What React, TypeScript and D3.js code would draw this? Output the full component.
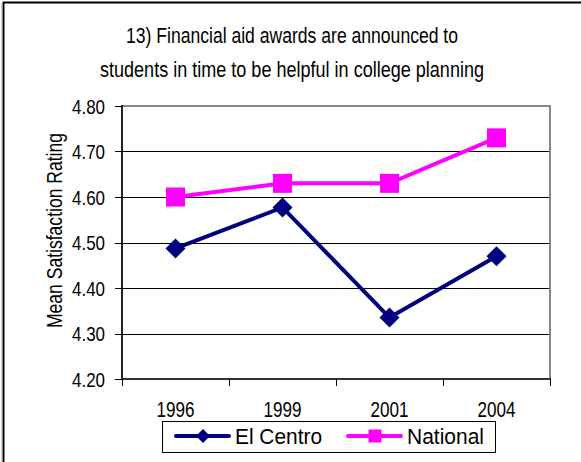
import React from "react";
import * as d3 from "d3";

const years = ["1996", "1999", "2001", "2004"];
const elCentro = [4.487, 4.577, 4.335, 4.47];
const national = [4.6, 4.63, 4.63, 4.73];
const yTicks = [4.2, 4.3, 4.4, 4.5, 4.6, 4.7, 4.8];
const titleLines = [
  "13) Financial aid awards are announced to",
  "students in time to be helpful in college planning",
];
const seriesNames = ["El Centro", "National"];

const W = 581;
const H = 462;
const FONT = "'Liberation Sans', Arial, sans-serif";

export default function App() {
  const left = 122, right = 550, top = 106, bottom = 379;
  const x = d3.scaleBand<string>().domain(years).range([left, right]).padding(0);
  const y = d3.scaleLinear().domain([4.2, 4.8]).range([bottom, top]);
  const cx = (d: string) => (x(d) as number) + x.bandwidth() / 2;
  const line = d3
    .line<number>()
    .x((_, i) => cx(years[i]))
    .y((v) => y(v));
  const navy = "#000080";
  const mag = "#FF00FF";
  const diamond = (px: number, py: number, r: number) =>
    `M${px},${py - r}L${px + r},${py}L${px},${py + r}L${px - r},${py}Z`;
  const titleWidths = [332, 384];

  return (
    <svg
      width={W}
      height={H}
      style={{ position: "absolute", left: 0, top: 0, background: "#fff" }}
    >
      <rect x={0} y={0} width={W} height={H} fill="#fff" />
      {/* outer frame */}
      <rect x={3.5} y={2.5} width={W + 20} height={H + 20} fill="none" stroke="#000" strokeWidth={2} />
      <line x1={2} y1={3} x2={2} y2={H} stroke="#999" strokeWidth={1} />

      {/* title */}
      {titleLines.map((t, i) => (
        <text
          key={i}
          x={292}
          y={43 + i * 34}
          textAnchor="middle"
          fontFamily={FONT}
          fontSize={22}
          textLength={titleWidths[i]}
          lengthAdjust="spacingAndGlyphs"
          fill="#000"
        >
          {t}
        </text>
      ))}

      {/* gridlines */}
      {yTicks.slice(1, -1).map((t) => (
        <line key={t} x1={left} x2={right} y1={Math.round(y(t)) + 0.5} y2={Math.round(y(t)) + 0.5} stroke="#000" strokeWidth={1} />
      ))}
      {/* plot border top/right */}
      <line x1={left} x2={right + 1} y1={top} y2={top} stroke="#888" strokeWidth={2} />
      <line x1={right} x2={right} y1={top} y2={bottom} stroke="#888" strokeWidth={2} />
      {/* axes */}
      <line x1={left} x2={left} y1={top - 1} y2={bottom + 1} stroke="#222" strokeWidth={2} />
      <line x1={left} x2={right + 1} y1={bottom} y2={bottom} stroke="#333" strokeWidth={2} />

      {/* y ticks */}
      {yTicks.map((t) => (
        <g key={t}>
          <line x1={115} x2={left} y1={Math.round(y(t)) + 0.5} y2={Math.round(y(t)) + 0.5} stroke="#000" strokeWidth={1} />
          <text
            x={105}
            y={y(t)}
            dy="0.36em"
            textAnchor="end"
            fontFamily={FONT}
            fontSize={21}
            textLength={33}
            lengthAdjust="spacingAndGlyphs"
            fill="#000"
          >
            {t.toFixed(2)}
          </text>
        </g>
      ))}

      {/* x ticks */}
      {[...years.map((d) => x(d) as number), right].map((px, i) => (
        <line key={i} x1={Math.round(px) + 0.5} x2={Math.round(px) + 0.5} y1={bottom} y2={bottom + 7} stroke="#000" strokeWidth={1} />
      ))}
      {years.map((d) => (
        <text
          key={d}
          x={cx(d)}
          y={417}
          textAnchor="middle"
          fontFamily={FONT}
          fontSize={22}
          textLength={38}
          lengthAdjust="spacingAndGlyphs"
          fill="#000"
        >
          {d}
        </text>
      ))}

      {/* y label */}
      <text
        transform={`translate(61.5,${230.5}) rotate(-90)`}
        textAnchor="middle"
        fontFamily={FONT}
        fontSize={22.5}
        textLength={195}
        lengthAdjust="spacingAndGlyphs"
        fill="#000"
      >
        Mean Satisfaction Rating
      </text>

      {/* series */}
      <path d={line(national) || ""} fill="none" stroke={mag} strokeWidth={4} />
      {national.map((v, i) => (
        <rect key={i} x={cx(years[i]) - 9.5} y={y(v) - 9.5} width={19} height={19} fill={mag} />
      ))}
      <path d={line(elCentro) || ""} fill="none" stroke={navy} strokeWidth={4} />
      {elCentro.map((v, i) => (
        <path key={i} d={diamond(cx(years[i]), y(v), 10)} fill={navy} />
      ))}

      {/* legend */}
      <rect x={162.5} y={421.5} width={333} height={31} fill="#fff" stroke="#000" strokeWidth={1} />
      <line x1={176} x2={229} y1={436} y2={436} stroke={navy} strokeWidth={4} strokeLinecap="round" />
      <path d={diamond(203, 436, 7)} fill={navy} />
      <text x={235} y={444} fontFamily={FONT} fontSize={21.5} textLength={87} lengthAdjust="spacingAndGlyphs" fill="#000">
        {seriesNames[0]}
      </text>
      <line x1={348} x2={401} y1={436} y2={436} stroke={mag} strokeWidth={4} strokeLinecap="round" />
      <rect x={368.5} y={429.5} width={13} height={13} fill={mag} />
      <text x={407} y={444} fontFamily={FONT} fontSize={21.5} textLength={77} lengthAdjust="spacingAndGlyphs" fill="#000">
        {seriesNames[1]}
      </text>
    </svg>
  );
}
